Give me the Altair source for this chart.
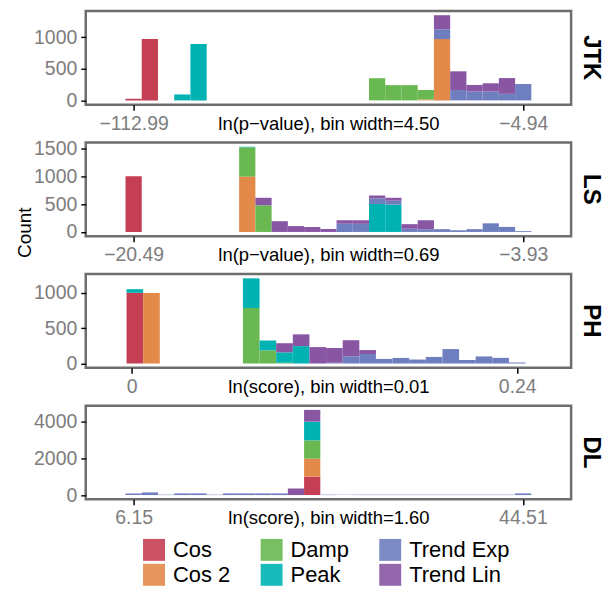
import altair as alt
import pandas as pd

# ---------------- data ----------------
SERIES = ["Cos", "Cos 2", "Damp", "Peak", "Trend Exp", "Trend Lin"]
BAR_COLORS = ["#C43F53", "#E3894A", "#69B852", "#00B2B2", "#6E7EBF", "#8856A3"]
LEGEND_ORDER = ["Cos", "Damp", "Trend Exp", "Cos 2", "Peak", "Trend Lin"]

PANELS = ["JTK", "LS", "PH", "DL"]
X_TITLES = ["ln(p−value), bin width=4.50", "ln(p−value), bin width=0.69",
            "ln(score), bin width=0.01", "ln(score), bin width=1.60"]
X_TICK_LABELS = [["−112.99", "−4.94"], ["−20.49", "−3.93"], ["0", "0.24"], ["6.15", "44.51"]]
Y_TICKS = [[0, 500, 1000], [0, 500, 1000, 1500], [0, 500, 1000], [0, 2000, 4000]]

# counts per bin index (bin -> count)
JTK_COS = {0: 26, 1: 972}
JTK_COS2 = {18: 15, 19: 972}
JTK_DAMP = {15: 352, 16: 242, 17: 242, 18: 150}
JTK_PEAK = {3: 94, 4: 893}
JTK_TEXP = {19: 156, 20: 164, 21: 141, 22: 141, 23: 104, 24: 260}
JTK_TLIN = {19: 223, 20: 297, 21: 104, 22: 130, 23: 250}

LS_COS = {0: 1000}
LS_COS2 = {7: 995}
LS_DAMP = {7: 526, 8: 479}
LS_PEAK = {7: 10, 15: 503, 16: 491}
LS_TEXP = {13: 146, 14: 146, 15: 99, 16: 70, 17: 58, 18: 47, 19: 50, 20: 30,
           21: 50, 22: 155, 23: 90, 24: 15}
LS_TLIN = {8: 135, 9: 193, 10: 105, 11: 88, 12: 53, 13: 64, 14: 64, 15: 53,
           16: 53, 17: 82, 18: 163}

PH_COS = {0: 1000}
PH_COS2 = {1: 995}
PH_DAMP = {7: 783, 8: 186, 9: 10}
PH_PEAK = {0: 51, 7: 421, 8: 139, 9: 148, 10: 246}
PH_TEXP = {12: 10, 13: 102, 14: 134, 15: 65, 16: 79, 17: 56, 18: 93, 19: 204,
           20: 50, 21: 100, 22: 80, 23: 14}
PH_TLIN = {9: 129, 10: 166, 11: 232, 12: 208, 13: 227, 14: 56}

DL_COS = {11: 1000}
DL_COS2 = {11: 973}
DL_DAMP = {11: 997}
DL_PEAK = {11: 1014}
DL_TEXP = {0: 89, 1: 142, 2: 22, 3: 89, 4: 89, 5: 22, 6: 89, 7: 89, 8: 89, 9: 89,
           12: 22, 13: 22, 14: 22, 15: 22, 16: 22, 17: 22, 18: 22, 19: 22,
           20: 22, 21: 22, 22: 22, 23: 22, 24: 89}
DL_TLIN = {10: 355, 11: 638}

PANEL_DATA = [
    [JTK_COS, JTK_COS2, JTK_DAMP, JTK_PEAK, JTK_TEXP, JTK_TLIN],
    [LS_COS, LS_COS2, LS_DAMP, LS_PEAK, LS_TEXP, LS_TLIN],
    [PH_COS, PH_COS2, PH_DAMP, PH_PEAK, PH_TEXP, PH_TLIN],
    [DL_COS, DL_COS2, DL_DAMP, DL_PEAK, DL_TEXP, DL_TLIN],
]

# ---------------- axis layout (bin units) ----------------
X_TICK_POS = [[0.5, 24.5], [0.5, 24.5], [0.3, 23.5], [0.5, 24.48]]
X_DOMAINS = [[-2.45, 27.45], [-2.45, 27.45], [-2.455, 26.74], [-2.45, 27.45]]

FONT = "Liberation Sans"
GRAY = "#7d7d7d"
LEG_COLORS = [BAR_COLORS[SERIES.index(s)] for s in LEGEND_ORDER]

legend = alt.Legend(
    orient="none", legendX=57.5, legendY=529.75, direction="horizontal", columns=3,
    symbolType="square", symbolSize=484, symbolStrokeWidth=0, symbolOpacity=0.9,
    labelFontSize=22, labelFont=FONT, labelColor="black", labelOffset=8,
    columnPadding=30, rowPadding=3, title=None, padding=0,
)

charts = []
for p, name in enumerate(PANELS):
    rows = []
    for i, s in enumerate(SERIES):
        for k, c in PANEL_DATA[p][i].items():
            rows.append({"k": k, "count": c, "series": s, "ord": i})
    df = pd.DataFrame(rows)
    ymax = df.groupby("k")["count"].sum().max()
    t0, t1 = X_TICK_POS[p]
    mid = (t0 + t1) / 2
    lab0, lab1 = X_TICK_LABELS[p]
    xaxis = alt.Axis(
        values=[t0, t1], labelExpr=f"datum.value < {mid} ? '{lab0}' : '{lab1}'",
        title=X_TITLES[p], grid=False, domain=False, tickColor="black",
        tickSize=5.5, tickWidth=1.5, labelColor=GRAY, labelFontSize=19.5,
        labelFont=FONT, labelBaseline="alphabetic", labelPadding=19,
        labelFlush=False, labelOverlap=False,
        titleFont=FONT, titleFontSize=18.5, titleFontWeight="normal",
        titleColor="black", titleBaseline="alphabetic", titleY=24.5,
    )
    yargs = dict(
        values=Y_TICKS[p], format="d", grid=False, domain=False, tickColor="black",
        tickSize=5, tickWidth=1.4, labelColor=GRAY, labelFontSize=19.5,
        labelFont=FONT, labelPadding=4, labelFlush=False, labelOverlap=False,
    )
    if name == "LS":
        yaxis = alt.Axis(title="Count", titleFont=FONT, titleFontSize=19,
                         titleFontWeight="normal", titleColor="black",
                         titleAngle=270, titleBaseline="middle", titleAlign="center",
                         titleX=-61, titleY=90, **yargs)
    else:
        yaxis = alt.Axis(title=None, **yargs)

    ch = (
        alt.Chart(df)
        .transform_stack(stack="count", groupby=["k"], as_=["y0", "y1"],
                         sort=[alt.SortField(field="ord", order="ascending")])
        .transform_calculate(k1="datum.k + 1")
        .mark_rect()
        .encode(
            x=alt.X("k:Q", scale=alt.Scale(domain=X_DOMAINS[p], nice=False, zero=False), axis=xaxis),
            x2="k1:Q",
            y=alt.Y("y0:Q", scale=alt.Scale(domain=[-0.05 * ymax, 1.05 * ymax], nice=False, zero=False), axis=yaxis),
            y2="y1:Q",
            color=alt.Color("series:N", scale=alt.Scale(domain=LEGEND_ORDER, range=LEG_COLORS), legend=legend),
        )
        .properties(
            width=487, height=94,
            title=alt.TitleParams(text=name, orient="right", angle=90, anchor="middle",
                                  fontSize=24, fontWeight="bold", color="black",
                                  font=FONT, offset=8),
        )
    )
    charts.append(ch)

chart = (
    alt.vconcat(*charts, spacing=38, bounds="flush")
    .resolve_scale(x="independent", y="independent", color="shared")
    .properties(padding={"left": 6, "top": 0, "right": 0, "bottom": 0})
    .configure_view(stroke="#6e6e6e", strokeWidth=2.5)
)

chart.save("out.html", embed_options={"renderer": "svg", "actions": False})
